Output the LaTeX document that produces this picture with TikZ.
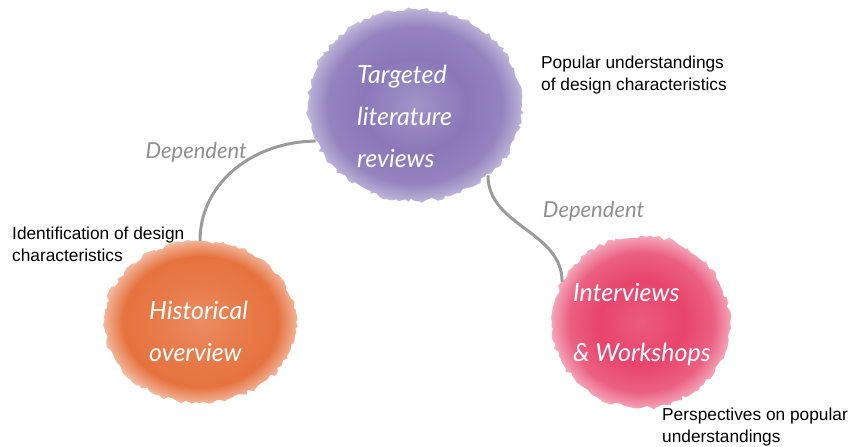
\documentclass[tikz,border=0pt]{standalone}
\usepackage{fontspec}
\setmainfont{Liberation Sans}
\newfontfamily\handfont{Lato}
\usetikzlibrary{shapes.geometric,decorations.pathmorphing}

\definecolor{blotpurple}{HTML}{8A78B9}
\definecolor{blotorange}{HTML}{E6733F}
\definecolor{blotpink}{HTML}{E8446C}
\definecolor{linkgray}{HTML}{9B9B9B}
\definecolor{labelgray}{HTML}{8E8E8E}

\pgfdeclareradialshading{purpleblot}{\pgfpoint{0bp}{0bp}}{color(0bp)=(blotpurple!80!white); color(12bp)=(blotpurple); color(20bp)=(blotpurple!92!white); color(24bp)=(blotpurple!62!white); color(25bp)=(blotpurple!50!white); color(50bp)=(blotpurple!50!white)}
\pgfdeclareradialshading{orangeblot}{\pgfpoint{0bp}{0bp}}{color(0bp)=(blotorange!82!white); color(12bp)=(blotorange!95!white); color(20bp)=(blotorange); color(24bp)=(blotorange!62!white); color(25bp)=(blotorange!50!white); color(50bp)=(blotorange!50!white)}
\pgfdeclareradialshading{pinkblot}{\pgfpoint{0bp}{0bp}}{color(0bp)=(blotpink!88!white); color(12bp)=(blotpink); color(20bp)=(blotpink!85!white); color(24bp)=(blotpink!55!white); color(25bp)=(blotpink!45!white); color(50bp)=(blotpink!45!white)}

\tikzset{
  blot/.style={ellipse, inner sep=0pt, shade, shading=#1,
    decorate, decoration={random steps, segment length=4pt, amplitude=2.2pt}},
  hand/.style={font=\handfont\itshape\fontsize{25}{42}\selectfont, text=white,
    align=left, inner sep=0pt, anchor=west},
  note/.style={font=\fontsize{17.3}{22}\selectfont, align=left, inner sep=0pt, anchor=west},
  link/.style={linkgray, line width=3pt},
  dependent/.style={font=\handfont\itshape\fontsize{22}{24}\selectfont, text=labelgray, inner sep=0pt},
}

\begin{document}
\begin{tikzpicture}[x=1pt, y=1pt]
\pgfmathsetseed{11}
\useasboundingbox (0,0) rectangle (852,447);

% blots
\node[blot=purpleblot, minimum width=214pt, minimum height=192pt] (tlr) at (415,342) {};
\node[blot=orangeblot, minimum width=192pt, minimum height=162pt] (hist) at (200,125) {};
\node[blot=pinkblot, minimum width=178pt, minimum height=172pt] (iws) at (641,125) {};

% texts in the blots
\node[hand] (tlrtext) at (357,331) {Targeted\\literature\\reviews};
\node[hand] (histtext) at (149,116) {Historical\\overview};
\node[hand, font=\handfont\itshape\fontsize{25}{60}\selectfont] (iwstext) at (573,122) {Interviews\\\& Workshops};

% links
\draw[link] (tlr.200) edge[out=180, in=90] node[pos=0.25, dependent, anchor=east, xshift=-24pt, yshift=-4pt] (dep1) {Dependent} (hist.north);
\draw[link] (tlr.316) edge[out=-90, in=90] node[pos=0.45, dependent, anchor=south west, xshift=22pt, yshift=2pt] (dep2) {Dependent} (iws.153);

% notes
\node[note] (popular) at (541,372) {Popular understandings\\of design characteristics};
\node[note] (ident) at (12,203) {Identification of design\\characteristics};
\node[note] (persp) at (662,20) {Perspectives on popular\\understandings};
\end{tikzpicture}
\end{document}
